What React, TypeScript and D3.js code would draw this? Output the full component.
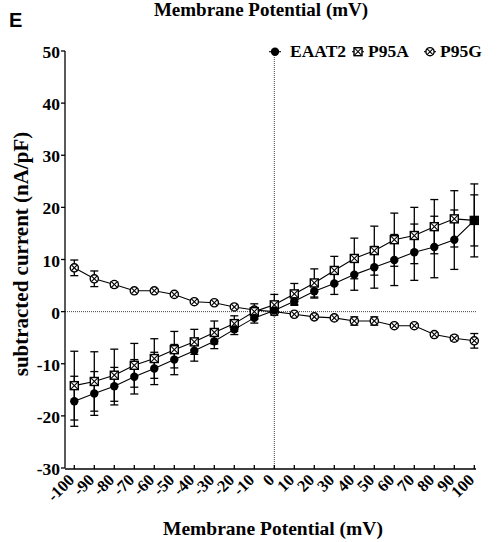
import React from "react";
import * as d3 from "d3";

const voltages = [-100, -90, -80, -70, -60, -50, -40, -30, -20, -10, 0, 10, 20, 30, 40, 50, 60, 70, 80, 90, 100];
const eaat2 = [-17.2, -15.7, -14.3, -12.5, -10.9, -9.2, -7.5, -5.7, -3.4, -1.2, 0.2, 2.0, 3.9, 5.4, 7.1, 8.5, 9.9, 11.4, 12.4, 13.8, 17.5];
const eaat2Err = [4.8, 4.2, 3.6, 3.3, 3.1, 2.9, 2.0, 1.4, 1.0, 1.0, 0.6, 0.8, 1.3, 2.1, 3.0, 4.0, 4.9, 5.4, 5.9, 5.7, 4.9];
const p95a = [-14.2, -13.4, -12.2, -10.3, -9.0, -7.3, -5.8, -4.0, -2.3, 0.0, 1.3, 3.4, 5.5, 7.9, 10.2, 11.7, 13.8, 14.6, 16.3, 17.8, 17.5];
const p95aErr = [6.6, 5.7, 5.0, 4.2, 3.8, 3.5, 2.4, 2.2, 1.5, 1.5, 2.0, 2.0, 2.7, 2.7, 3.9, 4.7, 5.1, 5.4, 5.2, 5.4, 7.0];
const p95g = [8.4, 6.3, 5.2, 4.0, 4.0, 3.3, 1.9, 1.7, 0.9, 0.3, 0.0, -0.5, -1.0, -1.2, -1.8, -1.8, -2.7, -2.7, -4.4, -5.1, -5.6];
const p95gErr = [1.5, 1.5, 0.5, 0.3, 0.3, 0.3, 0.3, 0.3, 0.3, 0.3, 0.3, 0.3, 0.3, 0.3, 0.8, 0.8, 0.3, 0.3, 0.3, 0.5, 1.4];
const yTicks = [-30, -20, -10, 0, 10, 20, 30, 40, 50];
const seriesNames = ["EAAT2", "P95A", "P95G"];

const W = 498;
const H = 542;
const x = d3.scaleLinear().domain([-100, 100]).range([74.3, 474.3]);
const y = d3.scaleLinear().domain([-30, 50]).range([468, 51]);
const serif = "'Liberation Serif', 'Times New Roman', serif";

type Kind = "circle" | "square" | "ocross";

function Marker({ cx, cy, kind }: { cx: number; cy: number; kind: Kind }) {
  const s = 4;
  if (kind === "circle") return <circle cx={cx} cy={cy} r={4.2} fill="#000" />;
  if (kind === "square")
    return (
      <g>
        <rect x={cx - s} y={cy - s} width={2 * s} height={2 * s} fill="#fff" stroke="#000" strokeWidth={1.4} />
        <line x1={cx - s} y1={cy - s} x2={cx + s} y2={cy + s} stroke="#000" strokeWidth={1.1} />
        <line x1={cx - s} y1={cy + s} x2={cx + s} y2={cy - s} stroke="#000" strokeWidth={1.1} />
      </g>
    );
  const d = 2.9;
  return (
    <g>
      <circle cx={cx} cy={cy} r={4.1} fill="#fff" stroke="#000" strokeWidth={1.4} />
      <line x1={cx - d} y1={cy - d} x2={cx + d} y2={cy + d} stroke="#000" strokeWidth={1.1} />
      <line x1={cx - d} y1={cy + d} x2={cx + d} y2={cy - d} stroke="#000" strokeWidth={1.1} />
    </g>
  );
}

function Series({ vals, errs }: { vals: number[]; errs: number[] }) {
  const pts: [number, number][] = voltages.map((v, i) => [x(v), y(vals[i])]);
  const line = d3.line()(pts) || "";
  return (
    <g>
      <path d={line} fill="none" stroke="#000" strokeWidth={1.1} />
      {voltages.map((v, i) => {
        const cx = x(v);
        const t = y(vals[i] + errs[i]);
        const b = y(vals[i] - errs[i]);
        return (
          <g key={"e" + i} stroke="#000" strokeWidth={1.3}>
            <line x1={cx} x2={cx} y1={t} y2={b} />
            <line x1={cx - 4} x2={cx + 4} y1={t} y2={t} />
            <line x1={cx - 4} x2={cx + 4} y1={b} y2={b} />
          </g>
        );
      })}
    </g>
  );
}

function Markers({ vals, kind }: { vals: number[]; kind: Kind }) {
  return (
    <g>
      {voltages.map((v, i) => (
        <Marker key={i} cx={x(v)} cy={y(vals[i])} kind={kind} />
      ))}
    </g>
  );
}

export default function App() {
  const legendItems: { name: string; kind: Kind; mx: number; tx: number }[] = [
    { name: seriesNames[0], kind: "circle", mx: 275, tx: 290 },
    { name: seriesNames[1], kind: "square", mx: 358, tx: 368 },
    { name: seriesNames[2], kind: "ocross", mx: 430, tx: 440 },
  ];
  return (
    <div style={{ position: "absolute", left: 0, top: 0 }}>
      <svg width={W} height={H} style={{ display: "block", background: "#fff" }}>
        <text x={9} y={27} fontFamily="'Liberation Sans', Arial, sans-serif" fontWeight="bold" fontSize={20}>E</text>
        <text x={261} y={15.5} textAnchor="middle" fontFamily={serif} fontWeight="bold" fontSize={19}>Membrane Potential (mV)</text>
        <text x={273} y={535} textAnchor="middle" fontFamily={serif} fontWeight="bold" fontSize={19.5}>Membrane Potential (mV)</text>
        <text transform="translate(28,254) rotate(-90)" textAnchor="middle" fontFamily={serif} fontWeight="bold" fontSize={21}>subtracted current (nA/pF)</text>

        {/* zero reference lines */}
        <line x1={65} x2={476} y1={y(0)} y2={y(0)} stroke="#444" strokeWidth={1} strokeDasharray="1,1" />
        <line x1={x(0)} x2={x(0)} y1={y(50)} y2={y(-30)} stroke="#444" strokeWidth={1} strokeDasharray="1,1" />

        {/* y axis */}
        <line x1={65} x2={65} y1={y(50)} y2={y(-30)} stroke="#000" strokeWidth={1.3} />
        {yTicks.map((t) => (
          <g key={t}>
            <line x1={61} x2={65} y1={y(t)} y2={y(t)} stroke="#000" strokeWidth={1.3} />
            <text x={60} y={y(t) + 7} textAnchor="end" fontFamily={serif} fontWeight="bold" fontSize={17.5}>{t}</text>
          </g>
        ))}

        {/* x axis */}
        <line x1={65} x2={476} y1={469} y2={469} stroke="#000" strokeWidth={1.3} />
        {voltages.map((v) => (
          <g key={v}>
            <line x1={x(v)} x2={x(v)} y1={465} y2={469} stroke="#000" strokeWidth={1.3} />
            <text transform={`translate(${x(v) + 1},${481}) rotate(-45)`} textAnchor="end" fontFamily={serif} fontWeight="bold" fontSize={16.5}>{v}</text>
          </g>
        ))}

        <Series vals={p95g} errs={p95gErr} />
        <Series vals={p95a} errs={p95aErr} />
        <Series vals={eaat2} errs={eaat2Err} />
        <Markers vals={p95g} kind="ocross" />
        <Markers vals={p95a} kind="square" />
        <Markers vals={eaat2} kind="circle" />

        {/* legend */}
        {legendItems.map((it) => (
          <g key={it.name}>
            <line x1={it.mx - 6} x2={it.mx + 6} y1={51.7} y2={51.7} stroke="#000" strokeWidth={1.1} />
            <Marker cx={it.mx} cy={51.7} kind={it.kind} />
            <text x={it.tx} y={57} fontFamily={serif} fontWeight="bold" fontSize={17.5}>{it.name}</text>
          </g>
        ))}
      </svg>
    </div>
  );
}
